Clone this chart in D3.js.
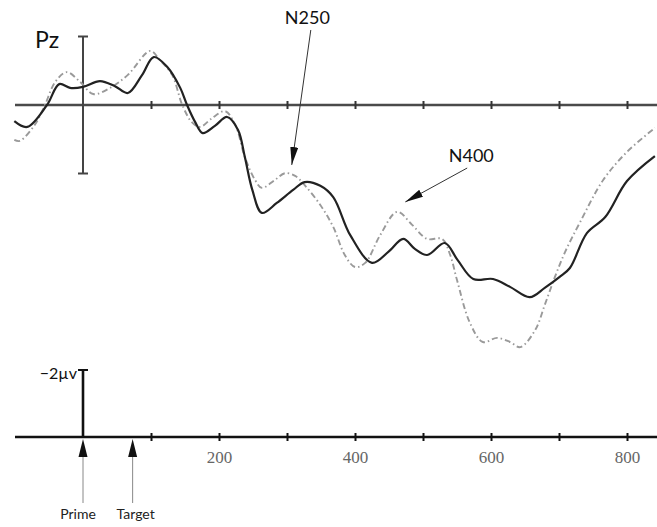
<!DOCTYPE html>
<html>
<head>
<meta charset="utf-8">
<script src="https://cdn.jsdelivr.net/npm/d3@7"></script>
<style>
    body { margin: 0; background: #fff; }
    svg { display: block; }
</style>
</head>
<body>
<div id="viz_erp"></div>
<script>
// constants
const width = 657
const height = 527
const base_top = 105
const base_bottom = 437

// time (ms) and amplitude (microvolt, negative up)
const time_solid = [-101, -82, -53, -35, -19, 0, 25, 47, 66, 87, 104, 124, 143, 153, 165, 176, 194, 212, 228, 238, 249, 263, 285, 309, 326, 349, 368, 393, 425, 449, 471, 488, 506, 532, 551, 574, 603, 628, 657, 679, 701, 716, 741, 768, 800, 841]
const amp_solid = [0.47, 0.64, 0.00, -0.61, -0.50, -0.53, -0.70, -0.55, -0.35, -0.88, -1.40, -1.11, -0.50, 0.00, 0.50, 0.82, 0.61, 0.35, 0.73, 1.52, 2.48, 3.15, 2.86, 2.48, 2.25, 2.36, 2.69, 3.80, 4.61, 4.29, 3.91, 4.20, 4.38, 4.03, 4.53, 5.08, 5.08, 5.31, 5.61, 5.34, 5.02, 4.76, 3.74, 3.27, 2.22, 1.49]

const time_dashed = [-101, -93, -71, -56, -41, -24, -4, 15, 40, 66, 99, 113, 131, 146, 160, 172, 190, 209, 224, 238, 253, 263, 282, 297, 312, 326, 349, 368, 385, 400, 415, 437, 462, 484, 506, 528, 540, 550, 569, 588, 609, 628, 643, 665, 679, 694, 709, 731, 765, 800, 841]
const amp_dashed = [1.02, 1.05, 0.58, 0.00, -0.67, -0.96, -0.67, -0.32, -0.50, -0.88, -1.58, -1.31, -0.88, 0.00, 0.50, 0.64, 0.38, 0.18, 0.58, 1.52, 2.19, 2.42, 2.19, 1.99, 2.07, 2.34, 2.92, 3.56, 4.38, 4.73, 4.61, 3.80, 3.12, 3.50, 3.91, 3.91, 4.38, 5.11, 6.36, 6.92, 6.80, 6.92, 7.07, 6.57, 5.84, 5.02, 4.29, 3.42, 2.19, 1.37, 0.67]

const ticks_ms = [100, 200, 300, 400, 500, 600, 700, 800]
const labels_ms = [200, 400, 600, 800]

// annotations: label, text anchor point, arrow start, arrow tip (ms, microvolt)
const notes = ['N250', 'N400']
const note_text = [[330, -2.37], [571, 1.67]]
const note_from = [[335, -2.19], [565, 1.84]]
const note_to = [[307, 1.75], [474, 2.83]]

const events = ['Prime', 'Target']
const event_ms = [0, 73]

const solid = time_solid.map((t, i) => ({t: t, v: amp_solid[i]}))
const dashed = time_dashed.map((t, i) => ({t: t, v: amp_dashed[i]}))

const svg = d3.select('#viz_erp')
    .append('svg')
        .attr('width', width)
        .attr('height', height)

const x = d3.scaleLinear()
    .domain([0, 800])
    .range([83, 627])

const y = d3.scaleLinear()
    .domain([-2, 2])
    .range([base_top - 68.5, base_top + 68.5])

// calibration scale for the bottom bar
const y_cal = d3.scaleLinear()
    .domain([-2, 0])
    .range([370, base_bottom])

const sans = 'Lato, "Open Sans", sans-serif'

svg.append('defs').append('marker')
    .attr('id', 'head')
    .attr('viewBox', '0 0 18 8')
    .attr('refX', 18)
    .attr('refY', 4)
    .attr('markerWidth', 18)
    .attr('markerHeight', 8)
    .attr('markerUnits', 'userSpaceOnUse')
    .attr('orient', 'auto')
    .append('path')
        .attr('d', 'M0,0 L18,4 L0,8 Z')
        .attr('fill', '#111')

// top baseline with small ticks
svg.append('line')
    .attr('x1', x(-100))
    .attr('x2', width)
    .attr('y1', base_top)
    .attr('y2', base_top)
    .attr('stroke', '#4a4a4a')
    .attr('stroke-width', 2.6)

svg.append('g')
    .attr('transform', `translate(0, ${base_top - 4})`)
    .call(d3.axisBottom(x)
            .tickValues(ticks_ms)
            .tickSize(8)
            .tickFormat(''))
    .call(g => g.select('.domain').remove())
    .call(g => g.selectAll('.tick line')
        .attr('stroke', '#333')
        .attr('stroke-width', 2))

// Pz scale bar
svg.append('line')
    .attr('x1', x(0)).attr('x2', x(0))
    .attr('y1', y(-2)).attr('y2', y(2))
    .attr('stroke', '#444')
    .attr('stroke-width', 2)
svg.selectAll('line.cap')
    .data([-2, 2])
    .join('line')
        .attr('class', 'cap')
        .attr('x1', x(0) - 5).attr('x2', x(0) + 5)
        .attr('y1', d => y(d)).attr('y2', d => y(d))
        .attr('stroke', '#444')
        .attr('stroke-width', 2)

svg.append('text')
    .attr('x', 35)
    .attr('y', 48)
    .attr('font-family', sans)
    .attr('font-size', 23)
    .attr('fill', '#111')
    .text('Pz')

// waveforms
const line = d3.line()
    .x(d => x(d.t))
    .y(d => y(d.v))
    .curve(d3.curveCatmullRom)

svg.append('path')
    .datum(dashed)
    .attr('d', line)
    .attr('fill', 'none')
    .attr('stroke', '#9a9a9a')
    .attr('stroke-width', 1.9)
    .attr('stroke-dasharray', '6,3,1.5,3')

svg.append('path')
    .datum(solid)
    .attr('d', line)
    .attr('fill', 'none')
    .attr('stroke', '#222')
    .attr('stroke-width', 2.2)

// component labels and arrows
notes.forEach((n, i) => {
    svg.append('line')
        .attr('x1', x(note_from[i][0]))
        .attr('y1', y(note_from[i][1]))
        .attr('x2', x(note_to[i][0]))
        .attr('y2', y(note_to[i][1]))
        .attr('stroke', '#333')
        .attr('stroke-width', 1)
        .attr('marker-end', 'url(#head)')
    svg.append('text')
        .attr('x', x(note_text[i][0]))
        .attr('y', y(note_text[i][1]))
        .attr('text-anchor', 'middle')
        .attr('font-family', sans)
        .attr('font-size', 18)
        .attr('fill', '#111')
        .text(n)
})

// bottom time axis
svg.append('line')
    .attr('x1', x(-100))
    .attr('x2', width)
    .attr('y1', base_bottom)
    .attr('y2', base_bottom)
    .attr('stroke', '#111')
    .attr('stroke-width', 2.6)

svg.append('g')
    .attr('transform', `translate(0, ${base_bottom - 4})`)
    .call(d3.axisBottom(x)
            .tickValues(ticks_ms)
            .tickSize(8)
            .tickPadding(10)
            .tickFormat(d => labels_ms.includes(d) ? d : ''))
    .call(g => g.select('.domain').remove())
    .call(g => g.selectAll('.tick line')
        .attr('stroke', '#111')
        .attr('stroke-width', 2))
    .call(g => g.selectAll('.tick text')
        .attr('font-family', '"Liberation Serif", serif')
        .attr('font-size', 17)
        .attr('fill', '#666'))

// calibration bar
svg.append('line')
    .attr('x1', x(0)).attr('x2', x(0))
    .attr('y1', y_cal(-2)).attr('y2', y_cal(0))
    .attr('stroke', '#111')
    .attr('stroke-width', 2.6)
svg.append('line')
    .attr('x1', x(0) - 5).attr('x2', x(0) + 5)
    .attr('y1', y_cal(-2)).attr('y2', y_cal(-2))
    .attr('stroke', '#111')
    .attr('stroke-width', 2)
svg.append('text')
    .attr('x', x(0) - 6)
    .attr('y', y_cal(-2) + 9)
    .attr('text-anchor', 'end')
    .attr('font-family', sans)
    .attr('font-size', 16)
    .attr('fill', '#111')
    .text('\u22122\u00b5v')

// event markers
events.forEach((e, i) => {
    const ex = x(event_ms[i])
    svg.append('path')
        .attr('d', `M${ex},${base_bottom + 2} L${ex + 4.5},${base_bottom + 20} L${ex - 4.5},${base_bottom + 20} Z`)
        .attr('fill', '#111')
    svg.append('line')
        .attr('x1', ex).attr('x2', ex)
        .attr('y1', base_bottom + 20).attr('y2', 503)
        .attr('stroke', '#888')
        .attr('stroke-width', 1)
    svg.append('text')
        .attr('x', ex + (i == 0 ? -5 : 3))
        .attr('y', 519)
        .attr('text-anchor', 'middle')
        .attr('font-family', sans)
        .attr('font-size', 14)
        .attr('fill', '#222')
        .text(e)
})
</script>
</body>
</html>
